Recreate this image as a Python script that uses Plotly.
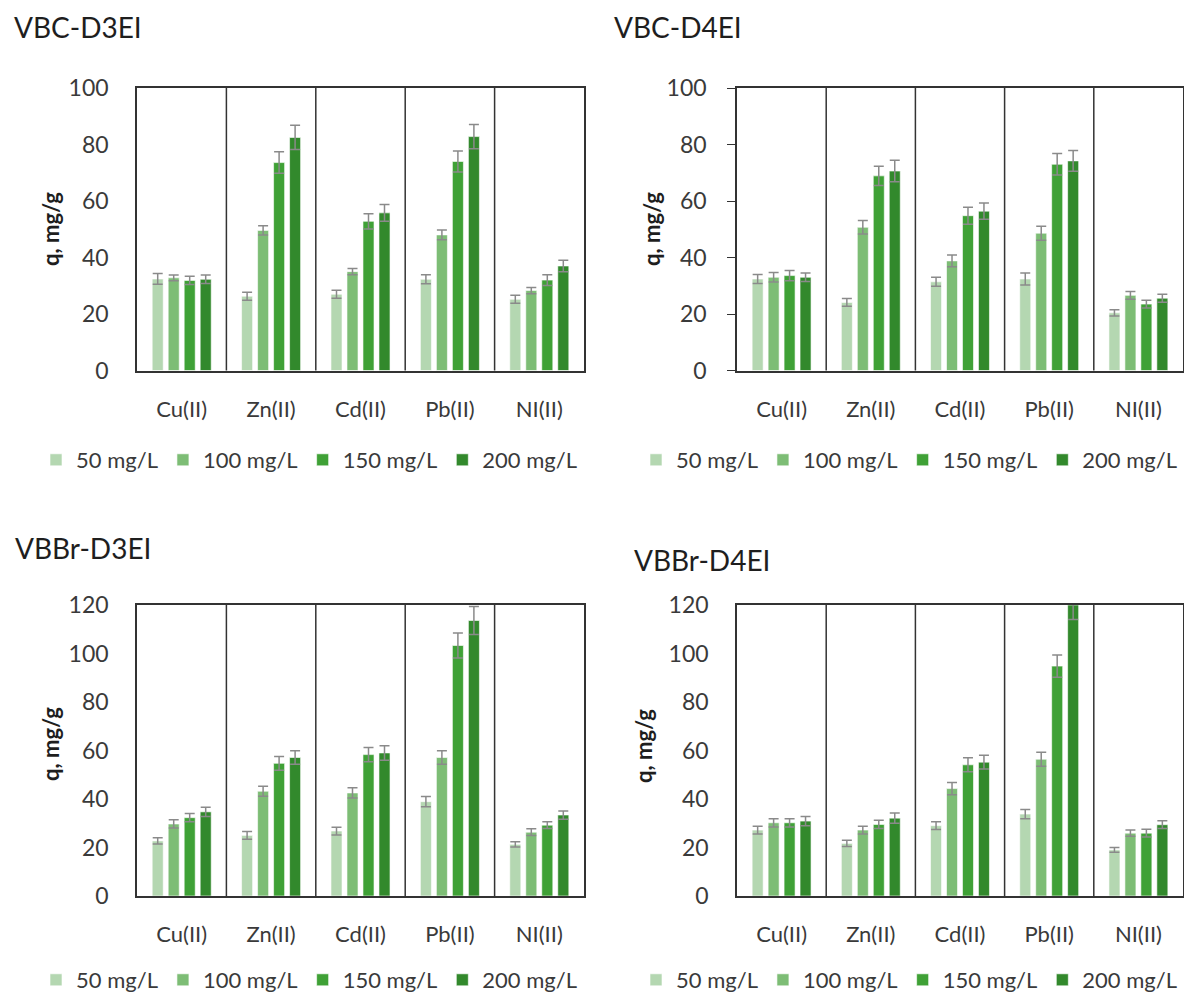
import plotly.graph_objects as go

W, H = 1184, 994

categories = ["Cu(II)", "Zn(II)", "Cd(II)", "Pb(II)", "NI(II)"]
series_names = ["50 mg/L", "100 mg/L", "150 mg/L", "200 mg/L"]
series_colors = ["#b4d7b1", "#7dbd75", "#3fa136", "#32892c"]

# VBC-D3EI
a_50 = [32.4, 26.3, 27.0, 32.3, 25.2]
a_100 = [32.8, 49.6, 35.0, 48.0, 28.3]
a_150 = [31.9, 73.6, 52.8, 74.0, 32.0]
a_200 = [32.3, 82.5, 55.8, 82.8, 37.0]
a_e50 = [1.9, 1.4, 1.4, 1.6, 1.4]
a_e100 = [1.0, 1.6, 1.1, 1.7, 1.1]
a_e150 = [1.5, 3.8, 2.7, 3.7, 1.9]
a_e200 = [1.5, 4.3, 3.0, 4.3, 2.0]

# VBC-D4EI
b_50 = [32.4, 24.1, 31.4, 32.4, 20.4]
b_100 = [33.0, 50.7, 38.8, 48.6, 26.6]
b_150 = [33.6, 68.9, 54.8, 73.0, 23.5]
b_200 = [33.0, 70.6, 56.4, 74.2, 25.6]
b_e50 = [1.6, 1.4, 1.6, 2.1, 1.1]
b_e100 = [1.7, 2.4, 2.1, 2.5, 1.4]
b_e150 = [1.8, 3.4, 3.0, 3.8, 1.4]
b_e200 = [1.5, 3.8, 2.9, 3.7, 1.4]

# VBBr-D3EI
c_50 = [22.7, 25.0, 26.8, 38.9, 21.3]
c_100 = [29.7, 43.2, 42.5, 57.1, 26.3]
c_150 = [32.3, 54.7, 58.3, 103.3, 29.2]
c_200 = [34.7, 57.1, 59.0, 113.6, 33.4]
c_e50 = [1.3, 1.6, 1.6, 2.1, 1.1]
c_e100 = [1.7, 2.1, 2.1, 2.8, 1.4]
c_e150 = [1.7, 2.8, 2.9, 5.2, 1.4]
c_e200 = [1.9, 2.8, 3.0, 5.8, 1.7]

# VBBr-D4EI
d_50 = [27.2, 21.7, 29.0, 33.8, 19.0]
d_100 = [30.2, 27.2, 44.3, 56.4, 25.9]
d_150 = [30.2, 29.5, 54.1, 94.8, 25.9]
d_200 = [30.9, 32.1, 55.2, 120.0, 29.4]
d_e50 = [1.6, 1.3, 1.6, 1.9, 1.0]
d_e100 = [1.7, 1.6, 2.5, 2.9, 1.3]
d_e150 = [1.7, 1.7, 2.9, 4.6, 1.6]
d_e200 = [1.9, 2.1, 2.8, 6.0, 1.6]

panel_titles = ["VBC-D3EI", "VBC-D4EI", "VBBr-D3EI", "VBBr-D4EI"]
y_maxes = [100, 100, 120, 120]
y_title = "q, mg/g"

panels = [
    ([a_50, a_100, a_150, a_200], [a_e50, a_e100, a_e150, a_e200]),
    ([b_50, b_100, b_150, b_200], [b_e50, b_e100, b_e150, b_e200]),
    ([c_50, c_100, c_150, c_200], [c_e50, c_e100, c_e150, c_e200]),
    ([d_50, d_100, d_150, d_200], [d_e50, d_e100, d_e150, d_e200]),
]

# layout geometry in pixels (left, right, top, bottom)
boxes = [(137, 584, 88, 370.5), (737, 1183, 88, 370.5),
         (137, 584, 605, 896), (737, 1183, 605, 896)]
title_pos = [(12, 27), (612, 27), (13, 548), (632, 560)]
ytitle_pos = [(50, 229), (651, 229), (50, 744), (643, 746)]
legend_pos = [(36, 460), (636, 460), (36, 980), (636, 980)]
has_ticks = [False, True, False, False]

FONT = "Lato, 'Open Sans', sans-serif"
TXT = "#3a3a3a"

def px_x(x):
    return x / W

def px_y(y):
    return 1 - y / H

fig = go.Figure()
layout = dict(
    width=W, height=H,
    margin=dict(l=0, r=0, t=0, b=0, pad=0, autoexpand=False),
    paper_bgcolor="white", plot_bgcolor="white",
    barmode="group", bargap=0.284, bargroupgap=0.31,
    font=dict(family=FONT, color=TXT, size=22),
    annotations=[], shapes=[],
)

for p, ((vals, errs), (l, r, t, b)) in enumerate(zip(panels, boxes)):
    suf = "" if p == 0 else str(p + 1)
    xa, ya = "x" + suf, "y" + suf
    lg = "legend" + suf
    for s in range(4):
        fig.add_trace(go.Bar(
            x=categories, y=vals[s], name=series_names[s],
            marker=dict(color=series_colors[s],
                        line=dict(color="rgba(255,255,255,0.6)", width=1)),
            error_y=dict(type="data", array=errs[s], visible=True,
                         color="#8a8a8a", thickness=1.5, width=5),
            xaxis=xa, yaxis=ya, legend=lg,
        ))
    layout["xaxis" + suf] = dict(
        domain=[px_x(l), px_x(r)], anchor=ya, range=[-0.5, 4.5],
        showline=True, mirror=True, linecolor="#333333", linewidth=1.5,
        ticks="", showgrid=False, zeroline=False, fixedrange=True,
        tickfont=dict(size=22, color=TXT, family=FONT),
        ticklabelstandoff=18, automargin=False,
    )
    layout["yaxis" + suf] = dict(
        domain=[px_y(b), px_y(t)], anchor=xa, range=[0, y_maxes[p]],
        dtick=20, showline=True, mirror=True, linecolor="#333333", linewidth=1.5,
        ticks="outside" if has_ticks[p] else "", ticklen=8, tickcolor="#333333",
        showgrid=False, zeroline=False, fixedrange=True,
        tickfont=dict(size=23, color=TXT, family=FONT),
        ticklabelstandoff=16 if has_ticks[p] else 22, automargin=False,
    )
    for k in range(1, len(categories)):
        layout["shapes"].append(dict(
            type="line", xref=xa, yref=ya + " domain",
            x0=k - 0.5, x1=k - 0.5, y0=0, y1=1,
            line=dict(color="#333333", width=1.5),
        ))
    tx, ty = title_pos[p]
    layout["annotations"].append(dict(
        text=panel_titles[p], xref="paper", yref="paper",
        x=px_x(tx), y=px_y(ty), xanchor="left", yanchor="middle",
        showarrow=False, font=dict(size=28, color="#1e1e1e", family=FONT),
    ))
    yx, yy = ytitle_pos[p]
    layout["annotations"].append(dict(
        text="<b>" + y_title + "</b>", xref="paper", yref="paper",
        x=px_x(yx), y=px_y(yy), xanchor="center", yanchor="middle",
        textangle=-90, showarrow=False,
        font=dict(size=22, color="#1e1e1e", family=FONT),
    ))
    lx, ly = legend_pos[p]
    layout[lg] = dict(
        orientation="h", x=px_x(lx), y=px_y(ly), xanchor="left", yanchor="middle",
        font=dict(size=22, color=TXT, family=FONT), bgcolor="rgba(0,0,0,0)",
        itemwidth=30, traceorder="normal", itemclick=False, itemdoubleclick=False,
    )

fig.update_layout(**layout)
fig.write_html("out.html")
